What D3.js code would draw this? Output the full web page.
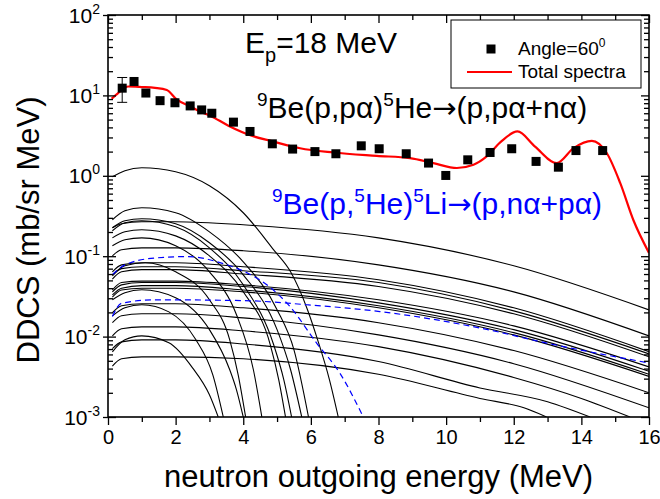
<!DOCTYPE html>
<html>
<head>
<meta charset="utf-8">
<script src="https://cdn.jsdelivr.net/npm/d3@7"></script>
<style>
  body { margin: 0; background: #fff; }
  svg { font-family: "Liberation Sans", Arial, sans-serif; }
</style>
</head>
<body>
<div id="chart"></div>
<script>
// Experimental points (Angle = 60 deg)
const expEnergy = [0.42, 0.77, 1.12, 1.54, 1.98, 2.43, 2.77, 3.07, 3.71, 4.20, 4.86, 5.46, 6.12,
                   6.74, 7.49, 8.02, 8.82, 9.48, 9.99, 10.64, 11.30, 11.94, 12.66, 13.32, 13.84, 14.63];
const expDDCS = [12.3, 14.9, 10.7, 8.6, 8.1, 7.4, 6.6, 6.0, 4.65, 3.56, 2.5, 2.15, 2.0,
                 1.88, 2.36, 2.17, 1.88, 1.44, 1.01, 1.58, 1.95, 2.17, 1.51, 1.28, 2.06, 2.06];
const errEnergy = [0.42];
const errLow = [8.2];
const errHigh = [16.7];

// Total spectra (red)
const totalEnergy = [0.11, 0.3, 0.6, 1.0, 1.39, 1.74, 2.03, 2.43, 2.72, 3.02, 3.56, 4.25, 4.84, 5.68,
                     6.66, 7.95, 8.93, 9.62, 10.32, 10.81, 11.2, 11.6, 12.11, 12.63, 13.27, 13.77,
                     14.31, 14.75, 15.15, 15.54, 16.0];
const totalDDCS = [9.1, 10.7, 12.9, 12.7, 12.4, 11.7, 8.9, 7.3, 6.3, 5.6, 4.2, 3.15, 2.7, 2.2,
                   1.95, 1.77, 1.66, 1.44, 1.25, 1.37, 1.74, 2.6, 3.56, 2.31, 1.44, 2.21,
                   2.72, 1.92, 0.81, 0.28, 0.11];

// Component curves reaching the high energy end (black)
const wideEnergy = [0.13, 0.4, 1, 2, 4, 8, 12, 16];
const wideDDCS = [
  [0.226, 0.253, 0.268, 0.268, 0.246, 0.169, 0.076, 0.0215],
  [0.101, 0.120, 0.127, 0.127, 0.117, 0.078, 0.036, 0.0102],
  [0.064, 0.078, 0.083, 0.083, 0.074, 0.051, 0.0228, 0.0065],
  [0.057, 0.070, 0.074, 0.074, 0.066, 0.047, 0.0209, 0.0061],
  [0.052, 0.064, 0.068, 0.068, 0.060, 0.042, 0.0192, 0.0056],
  [0.038, 0.047, 0.049, 0.049, 0.044, 0.0287, 0.0136, 0.0042],
  [0.036, 0.044, 0.047, 0.047, 0.042, 0.0263, 0.0122, 0.0037],
  [0.033, 0.040, 0.043, 0.043, 0.038, 0.0242, 0.0112, 0.0034],
  [0.031, 0.038, 0.040, 0.040, 0.036, 0.0228, 0.0105, 0.0032],
  [0.0198, 0.0242, 0.0256, 0.0256, 0.0228, 0.0149, 0.0067, 0.0020],
  [0.0149, 0.0182, 0.0192, 0.0192, 0.0171, 0.0105, 0.0046, 0.0013]
];
const lowWideEnergy = [
  [0.13, 0.4, 1, 2, 4, 8, 12, 14, 15.44],
  [0.13, 0.4, 1, 2, 4, 8, 11, 13, 14.26],
  [0.13, 0.4, 1, 2, 4, 8, 11, 12.3, 12.97]
];
const lowWideDDCS = [
  [0.0102, 0.0125, 0.0132, 0.0132, 0.0118, 0.0075, 0.0031, 0.0017, 0.001],
  [0.0071, 0.0086, 0.0091, 0.0091, 0.0081, 0.0049, 0.0023, 0.00155, 0.001],
  [0.0043, 0.0053, 0.0056, 0.0056, 0.0053, 0.0034, 0.0017, 0.0013, 0.001]
];

// Component curves falling off at low energy (black)
const narrowEnergy = [
  [0.13, 0.5, 1.0, 2.0, 3.0, 4.0, 4.9, 5.4, 5.9, 6.2, 6.55, 6.81],
  [0.13, 0.5, 1.0, 2.0, 3.0, 4.0, 5.0, 5.5, 5.93],
  [0.13, 0.5, 1.0, 2.0, 3.0, 4.0, 5.0, 5.4, 5.73],
  [0.13, 0.5, 1.0, 2.0, 3.0, 4.0, 4.9, 5.2, 5.43],
  [0.13, 0.5, 1.0, 2.0, 3.0, 4.0, 4.8, 5.05, 5.25],
  [0.13, 0.5, 1.0, 2.0, 3.0, 3.8, 4.3, 4.55],
  [0.13, 0.5, 1.1, 2.0, 3.0, 3.6, 3.85, 4.07],
  [0.13, 0.5, 1.0, 2.0, 3.0, 3.6, 3.8, 4.0],
  [0.13, 0.5, 1.0, 1.8, 2.6, 3.1, 3.41],
  [0.13, 0.5, 1.0, 1.8, 2.5, 3.0, 3.26]
];
const narrowDDCS = [
  [0.972, 1.154, 1.257, 1.121, 0.751, 0.347, 0.120, 0.064, 0.0216, 0.0091, 0.0029, 0.001],
  [0.284, 0.367, 0.400, 0.347, 0.201, 0.0851, 0.0216, 0.00685, 0.001],
  [0.226, 0.276, 0.292, 0.253, 0.147, 0.0587, 0.0122, 0.00387, 0.001],
  [0.207, 0.260, 0.276, 0.232, 0.127, 0.0441, 0.00791, 0.0029, 0.001],
  [0.169, 0.201, 0.213, 0.179, 0.101, 0.0361, 0.00791, 0.0029, 0.001],
  [0.135, 0.160, 0.169, 0.135, 0.064, 0.0187, 0.00387, 0.001],
  [0.0587, 0.0760, 0.0828, 0.064, 0.0287, 0.00912, 0.00335, 0.001],
  [0.0287, 0.0351, 0.0382, 0.0304, 0.0122, 0.00387, 0.00218, 0.001],
  [0.0181, 0.0228, 0.0249, 0.0203, 0.00912, 0.00335, 0.001],
  [0.00647, 0.00912, 0.0102, 0.00838, 0.00409, 0.00189, 0.001]
];

// 9Be(p,5He)5Li components (blue dashed)
const blueEnergy = [
  [0.13, 0.5, 1.39, 2.38, 3.36, 4.05, 4.89, 5.38, 6.17, 6.86, 7.55],
  [0.13, 0.4, 1.39, 4.05, 5.88, 8.04, 11.0, 12.98, 16]
];
const blueDDCS = [
  [0.059, 0.078, 0.095, 0.099, 0.082, 0.064, 0.038, 0.0237, 0.0083, 0.0035, 0.001],
  [0.0178, 0.026, 0.0287, 0.028, 0.0249, 0.0205, 0.0128, 0.0083, 0.0047]
];

const xMajorTicks = [0, 2, 4, 6, 8, 10, 12, 14, 16];
const yDecadeExps = [-3, -2, -1, 0, 1, 2];

const width = 660, height = 499;
const margin = {top: 15, left: 108, right: 11, bottom: 82};
const innerW = width - margin.left - margin.right;
const innerH = height - margin.top - margin.bottom;

const svg = d3.select("#chart").append("svg")
    .attr("width", width)
    .attr("height", height);

const x = d3.scaleLinear().domain([0, 16]).range([0, innerW]);
const y = d3.scaleLog().domain([1e-3, 1e2]).range([innerH, 0]);

const g = svg.append("g")
    .attr("transform", "translate(" + margin.left + "," + margin.top + ")");

g.append("clipPath").attr("id", "plotClip")
    .append("rect").attr("width", innerW).attr("height", innerH);

const plot = g.append("g").attr("clip-path", "url(#plotClip)");

const line = d3.line()
    .x(d => x(d[0]))
    .y(d => y(d[1]))
    .curve(d3.curveMonotoneX);

function zipPts(xs, ys) {
    return xs.map((v, i) => [v, ys[i]]);
}

// black components
const blackSeries = wideDDCS.map(ys => zipPts(wideEnergy, ys))
    .concat(lowWideDDCS.map((ys, i) => zipPts(lowWideEnergy[i], ys)))
    .concat(narrowDDCS.map((ys, i) => zipPts(narrowEnergy[i], ys)));

plot.selectAll(".comp")
    .data(blackSeries)
    .enter().append("path")
    .attr("class", "comp")
    .attr("d", line)
    .attr("fill", "none")
    .attr("stroke", "#000")
    .attr("stroke-width", 1.1);

plot.selectAll(".blue")
    .data(blueDDCS.map((ys, i) => zipPts(blueEnergy[i], ys)))
    .enter().append("path")
    .attr("class", "blue")
    .attr("d", line)
    .attr("fill", "none")
    .attr("stroke", "#0000ff")
    .attr("stroke-width", 1.2)
    .attr("stroke-dasharray", "6,4");

// total spectra
plot.append("path")
    .datum(zipPts(totalEnergy, totalDDCS))
    .attr("d", line)
    .attr("fill", "none")
    .attr("stroke", "#ff0000")
    .attr("stroke-width", 2.2);

// error bar
errEnergy.forEach((e, i) => {
    const cx = x(e);
    g.append("line").attr("x1", cx).attr("x2", cx)
        .attr("y1", y(errLow[i])).attr("y2", y(errHigh[i]))
        .attr("stroke", "#000").attr("stroke-width", 1);
    [errLow[i], errHigh[i]].forEach(v => {
        g.append("line").attr("x1", cx - 5).attr("x2", cx + 5)
            .attr("y1", y(v)).attr("y2", y(v))
            .attr("stroke", "#000").attr("stroke-width", 1);
    });
});

// data squares
const sq = 9;
g.selectAll(".pt")
    .data(zipPts(expEnergy, expDDCS))
    .enter().append("rect")
    .attr("class", "pt")
    .attr("x", d => x(d[0]) - sq / 2)
    .attr("y", d => y(d[1]) - sq / 2)
    .attr("width", sq).attr("height", sq)
    .attr("fill", "#000");

// axes
function styleAxis(sel) {
    sel.select(".domain").remove();
    sel.selectAll("line").attr("stroke", "#000").attr("stroke-width", 1.3);
}

const xMinor = d3.range(1, 16, 2);
g.append("g").attr("transform", "translate(0," + innerH + ")")
    .call(d3.axisBottom(x).tickValues(xMajorTicks).tickSize(8).tickFormat(d3.format("d")))
    .call(styleAxis)
    .call(a => a.selectAll("text")
        .attr("y", 13).attr("font-size", 20).attr("fill", "#000")
        .attr("font-family", "Liberation Sans, Arial, sans-serif"));
g.append("g").attr("transform", "translate(0," + innerH + ")")
    .call(d3.axisBottom(x).tickValues(xMinor).tickSize(5).tickFormat(""))
    .call(styleAxis);
g.append("g")
    .call(d3.axisTop(x).tickValues(xMajorTicks).tickSize(-8).tickFormat(""))
    .call(styleAxis);
g.append("g")
    .call(d3.axisTop(x).tickValues(xMinor).tickSize(-5).tickFormat(""))
    .call(styleAxis);

const decades = yDecadeExps.map(e => Math.pow(10, e));
const yMinor = y.ticks().filter(v => !decades.some(dv => Math.abs(v / dv - 1) < 1e-6));

g.append("g")
    .call(d3.axisLeft(y).tickValues(decades).tickSize(-8).tickFormat(""))
    .call(styleAxis)
    .call(a => a.selectAll("line").attr("x1", -5));
g.append("g")
    .call(d3.axisLeft(y).tickValues(yMinor).tickSize(-5).tickFormat(""))
    .call(styleAxis);
g.append("g").attr("transform", "translate(" + innerW + ",0)")
    .call(d3.axisRight(y).tickValues(decades).tickSize(-8).tickFormat(""))
    .call(styleAxis);
g.append("g").attr("transform", "translate(" + innerW + ",0)")
    .call(d3.axisRight(y).tickValues(yMinor).tickSize(-5).tickFormat(""))
    .call(styleAxis);

// y tick labels 10^n
yDecadeExps.forEach(e => {
    const t = g.append("text")
        .attr("x", -8)
        .attr("y", y(Math.pow(10, e)) + 7.5)
        .attr("text-anchor", "end")
        .attr("font-size", 21)
        .attr("fill", "#000");
    t.append("tspan").text("10");
    t.append("tspan").attr("font-size", 14).attr("dy", -9).text(e);
});

// frame
g.append("rect")
    .attr("width", innerW).attr("height", innerH)
    .attr("fill", "none").attr("stroke", "#000").attr("stroke-width", 1.6);

// axis titles
svg.append("text")
    .attr("x", margin.left + innerW / 2)
    .attr("y", 487)
    .attr("text-anchor", "middle")
    .attr("font-size", 31)
    .text("neutron outgoing energy (MeV)");

svg.append("text")
    .attr("transform", "translate(39,230) rotate(-90)")
    .attr("text-anchor", "middle")
    .attr("font-size", 31)
    .text("DDCS (mb/sr MeV)");

// annotations
const ep = svg.append("text").attr("x", 245).attr("y", 53).attr("font-size", 30);
ep.append("tspan").text("E");
ep.append("tspan").attr("font-size", 20).attr("dy", 9).text("p");
ep.append("tspan").attr("dy", -9).text("=18 MeV");

// "^" marks a superscript part, "\u2192" is drawn with a wider arrow glyph
function reaction(xPos, yPos, color, parts) {
    const t = svg.append("text").attr("x", xPos).attr("y", yPos)
        .attr("font-size", 30).attr("fill", color);
    let raised = false;
    parts.forEach(p => {
        const sup = p[0] === "^";
        const s = t.append("tspan").text(sup ? p.slice(1) : p);
        if (sup && !raised) { s.attr("font-size", 19).attr("dy", -12); raised = true; }
        else if (!sup && raised) { s.attr("dy", 12); raised = false; }
        else if (sup) { s.attr("font-size", 19); }
        if (p === "\u2192") s.attr("font-family", "DejaVu Sans").attr("font-size", 29);
    });
}
reaction(257, 118, "#000", ["^9", "Be(p,p\u03b1)", "^5", "He", "\u2192", "(p,p\u03b1+n\u03b1)"]);
reaction(272, 214, "#0000ff", ["^9", "Be(p,", "^5", "He)", "^5", "Li", "\u2192", "(p,n\u03b1+p\u03b1)"]);

// legend
svg.append("rect")
    .attr("x", 451).attr("y", 20).attr("width", 190).attr("height", 68)
    .attr("fill", "#fff").attr("stroke", "#000").attr("stroke-width", 1);
svg.append("rect")
    .attr("x", 491 - sq / 2).attr("y", 49 - sq / 2).attr("width", sq).attr("height", sq)
    .attr("fill", "#000");
const lt = svg.append("text").attr("x", 518).attr("y", 55).attr("font-size", 19);
lt.append("tspan").text("Angle=60");
lt.append("tspan").attr("font-size", 12).attr("dy", -8).text("0");
svg.append("line")
    .attr("x1", 467).attr("x2", 512).attr("y1", 72).attr("y2", 72)
    .attr("stroke", "#ff0000").attr("stroke-width", 2.2);
svg.append("text").attr("x", 518).attr("y", 78).attr("font-size", 19).text("Total spectra");
</script>
</body>
</html>
